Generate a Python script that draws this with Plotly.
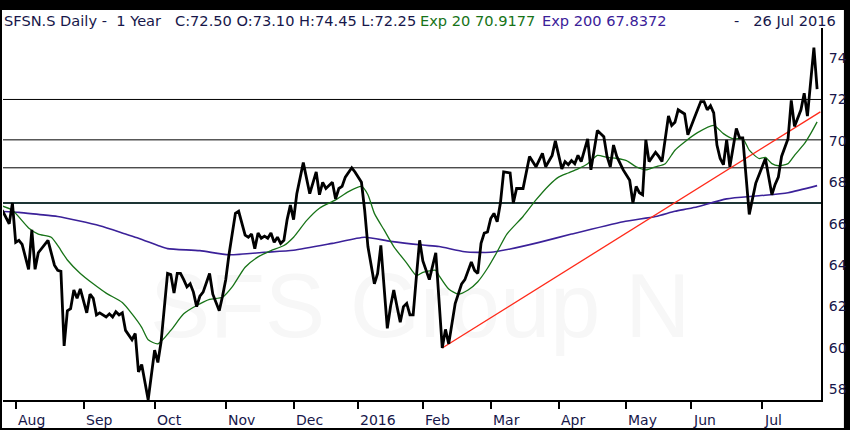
import pandas as pd
import plotly.graph_objects as go

# SIX trading calendar, one year back from 26 Jul 2016
first_session = "2015-07-27"
last_session = "2016-07-26"
closed_days = ["2015-12-24", "2015-12-25", "2015-12-31", "2016-01-01",
               "2016-03-25", "2016-03-28", "2016-05-05", "2016-05-16"]

month_starts = ["2015-08-01", "2015-09-01", "2015-10-01", "2015-11-01", "2015-12-01", "2016-01-01",
                "2016-02-01", "2016-03-01", "2016-04-01", "2016-05-01", "2016-06-01", "2016-07-01"]
month_labels = ["Aug", "Sep", "Oct", "Nov", "Dec", "2016", "Feb", "Mar", "Apr", "May", "Jun", "Jul"]

# closing prices (session number since 27 Jul 2015 -> close)
close_day = [0, 1, 3, 4, 5, 6, 7, 9, 10, 11, 12, 14, 15, 17, 18, 19, 20, 21, 22, 23,
             24, 25, 26, 27, 28, 29, 30, 31, 33, 34, 35, 36, 37, 38, 39, 41, 42, 43, 44, 46,
             48, 49, 50, 52, 53, 54, 55, 56, 57, 58, 59, 60, 61, 62, 63, 65, 66, 68, 69, 70,
             71, 73, 74, 76, 77, 78, 79, 80, 81, 82, 83, 84, 85, 86, 87, 88, 89, 90, 91, 92,
             94, 96, 98, 99, 100, 101, 103, 104, 105, 106, 107, 109, 110, 112, 113, 114, 116, 117, 118, 119,
             120, 121, 122, 123, 124, 125, 126, 127, 128, 129, 130, 131, 133, 135, 137, 138, 139, 141, 142, 143,
             144, 146, 147, 148, 149, 150, 151, 152, 153, 154, 155, 156, 158, 159, 160, 162, 164, 166, 168, 169,
             171, 172, 174, 175, 176, 177, 178, 179, 180, 182, 183, 185, 187, 188, 189, 190, 191, 193, 195, 196,
             197, 198, 199, 200, 201, 203, 204, 205, 207, 208, 209, 210, 212, 213, 215, 217, 218, 219, 220, 221,
             222, 223, 224, 225, 226, 228, 229, 230, 232, 233, 234, 237, 238, 239, 240, 241, 242, 244, 245, 246,
             248, 249, 250, 252, 253]
close = [66.8, 66.6, 66.0, 67.0, 65.1, 65.2, 65.0, 63.8, 65.7, 63.8, 64.6, 65.0, 65.2, 64.0, 63.75, 63.7, 60.1, 61.8, 61.9, 62.8,
         62.4, 62.85, 62.3, 61.7, 62.6, 62.4, 61.6, 61.7, 61.5, 61.65, 61.5, 61.75, 61.6, 61.7, 60.85, 60.4, 60.7, 58.85, 59.2, 57.5,
         59.9, 59.3, 60.3, 63.6, 63.55, 62.65, 63.6, 63.6, 63.3, 62.95, 63.1, 62.7, 62.0, 62.5, 62.7, 63.6, 62.6, 61.8, 62.5, 63.3,
         64.5, 66.5, 66.6, 65.45, 65.35, 65.5, 64.8, 65.55, 65.3, 65.4, 65.3, 65.55, 65.1, 65.35, 65.05, 65.2, 66.2, 66.9, 66.2, 67.45,
         68.95, 67.45, 68.5, 67.4, 68.0, 67.7, 68.0, 67.2, 67.7, 67.8, 68.25, 68.7, 68.5, 68.0, 66.65, 64.9, 63.1, 63.6, 64.95, 62.8,
         60.95, 62.0, 62.8, 62.0, 61.25, 62.0, 62.15, 61.6, 61.6, 63.45, 65.2, 64.2, 63.3, 64.6, 60.0, 60.9, 60.2, 62.15, 62.6, 63.1,
         63.3, 64.15, 63.75, 63.6, 65.05, 65.55, 65.6, 66.25, 66.5, 66.1, 67.0, 68.5, 68.45, 67.0, 67.7, 67.7, 69.25, 68.75, 69.4, 68.75,
         69.3, 70.0, 68.65, 69.0, 68.85, 69.05, 68.9, 69.3, 69.0, 70.1, 68.6, 70.5, 70.2, 69.25, 68.75, 69.8, 69.25, 68.6, 68.1, 67.0,
         67.8, 67.5, 67.4, 70.05, 69.0, 69.45, 69.25, 69.0, 71.2, 70.75, 70.9, 71.5, 71.3, 70.3, 71.1, 71.9, 71.9, 71.5, 71.7, 71.35,
         69.8, 69.15, 68.85, 70.05, 68.75, 70.6, 70.15, 70.15, 66.45, 67.15, 67.95, 69.15, 68.25, 67.4, 67.9, 68.25, 69.25, 70.1, 71.95, 70.7,
         71.5, 72.3, 71.2, 74.5, 72.5]

ema20_day = [0, 4, 9, 12, 16, 18, 21, 25, 29, 33, 38, 41, 44, 46, 49, 53, 57, 61, 65, 69,
             72, 76, 80, 84, 88, 91, 95, 99, 104, 108, 112, 114, 116, 119, 122, 126, 129, 131, 135, 136,
             139, 142, 145, 148, 151, 154, 157, 162, 166, 170, 173, 176, 179, 182, 185, 188, 191, 194, 197, 200,
             203, 206, 209, 212, 216, 221, 224, 227, 230, 232, 235, 237, 239, 241, 244, 246, 249, 251, 253]
ema20 = [66.9, 66.65, 65.8, 65.5, 65.35, 64.95, 64.25, 63.6, 63.1, 62.65, 62.2, 61.65, 61.0, 60.4, 60.2, 60.85, 61.65, 62.05, 62.35, 62.45,
         62.95, 63.9, 64.4, 64.7, 64.95, 65.35, 66.15, 66.75, 67.15, 67.55, 67.8, 67.4, 66.5, 65.7, 64.9, 64.1, 63.5, 63.65, 63.75, 63.5,
         62.85, 62.6, 62.8, 63.2, 63.85, 64.65, 65.5, 66.35, 67.15, 67.85, 68.25, 68.45, 68.65, 68.9, 69.3, 69.2, 69.15, 69.05, 68.75, 68.6,
         68.75, 68.9, 69.55, 69.95, 70.4, 70.75, 70.35, 70.1, 70.1, 69.55, 69.15, 69.2, 68.9, 68.8, 68.9, 69.3, 69.85, 70.35, 70.92]

ema200_day = [0, 6, 12, 18, 31, 39, 43, 49, 52, 62, 71, 82, 91, 103, 113, 121, 131, 136, 144, 152,
              158, 167, 177, 193, 203, 209, 213, 216, 225, 235, 244, 253]
ema200 = [66.6, 66.55, 66.45, 66.35, 65.9, 65.5, 65.3, 64.95, 64.8, 64.7, 64.5, 64.62, 64.72, 65.05, 65.35, 65.15, 64.97, 64.9, 64.65, 64.62,
          64.78, 65.1, 65.5, 66.1, 66.35, 66.6, 66.72, 66.82, 67.2, 67.35, 67.5, 67.84]

# trend line from the February low
trend_day = [137, 254]
trend = [60.0, 71.4]

# horizontal levels
levels = [72.0, 70.05, 68.7]
support = 67.0

header = "SFSN.S Daily -  1 Year   C:72.50 O:73.10 H:74.45 L:72.25"
exp20_label = "Exp 20 70.9177"
exp200_label = "Exp 200 67.8372"
date_label = "-   26 Jul 2016"
watermark = "SFS Group N"

TEXT = "#17174a"
GREEN = "#177317"
PURPLE = "#3b2199"
FONT = "DejaVu Sans"


def session_calendar(start, end, closed):
    days = pd.bdate_range(start, end)
    return days[~days.isin(pd.to_datetime(closed))]


def nbsp(text):
    return text.replace(" ", "\u00a0")


def header_text(fig, text, x, color, anchor="left"):
    # x in paper units, header row sits in the top margin
    fig.add_annotation(x=x, y=1.019, xref="paper", yref="paper", xanchor=anchor, yanchor="middle",
                       showarrow=False, text=nbsp(text), borderpad=0,
                       font=dict(family=FONT, size=14.6, color=color))


sessions = session_calendar(first_session, last_session, closed_days)
month_ticks = [int(sessions.searchsorted(pd.Timestamp(m))) for m in month_starts]

x_range = [1.08, 254.2]
y_range = [57.49, 75.45]

fig = go.Figure()

# faint watermark behind everything
fig.add_trace(go.Scatter(
    x=[x_range[0] + 0.51 * (x_range[1] - x_range[0])],
    y=[y_range[0] + 0.23 * (y_range[1] - y_range[0])],
    mode="text", text=[watermark],
    textfont=dict(family="Liberation Sans", size=90, color="#f7f7f7"),
    hoverinfo="skip"
))
fig.add_trace(go.Scatter(x=ema200_day, y=ema200, mode="lines",
                         line=dict(color=PURPLE, width=1.6, shape="spline", smoothing=0.6)))
fig.add_trace(go.Scatter(x=ema20_day, y=ema20, mode="lines",
                         line=dict(color=GREEN, width=1.3, shape="spline", smoothing=0.6)))
fig.add_trace(go.Scatter(x=trend_day, y=trend, mode="lines",
                         line=dict(color="#ff2a1a", width=1.3)))
fig.add_trace(go.Scatter(x=close_day, y=close, mode="lines",
                         line=dict(color="black", width=2.8)))

# white panel inside the black frame
fig.add_shape(type="rect", xref="paper", yref="paper",
              x0=-1 / 821, x1=844 / 821, y0=-28 / 372, y1=390 / 372,
              fillcolor="white", line=dict(width=0), layer="below")
for lvl in levels:
    fig.add_shape(type="line", xref="paper", yref="y", x0=0, x1=1, y0=lvl, y1=lvl,
                  line=dict(color="black", width=1), layer="below")
fig.add_shape(type="line", xref="paper", yref="y", x0=0, x1=1, y0=support, y1=support,
              line=dict(color="#1d3535", width=2), layer="below")

for day, label in zip(month_ticks, month_labels):
    fig.add_annotation(x=day, y=0, xref="x", yref="paper", text=label, showarrow=False,
                       xanchor="left", yanchor="top", yshift=-10,
                       font=dict(family=FONT, size=14, color=TEXT))

header_text(fig, header, 0, TEXT)
header_text(fig, exp20_label, 418 / 821, GREEN)
header_text(fig, exp200_label, 540 / 821, PURPLE)
header_text(fig, date_label, 837 / 821, TEXT, anchor="right")

fig.update_layout(
    width=850, height=430,
    margin=dict(l=3, r=26, t=28, b=30),
    paper_bgcolor="black", plot_bgcolor="white",
    showlegend=False,
    xaxis=dict(range=x_range, tickvals=month_ticks, showticklabels=False,
               ticks="outside", ticklen=7, tickwidth=2, tickcolor="black",
               showline=True, linecolor="black", linewidth=2,
               showgrid=False, zeroline=False),
    yaxis=dict(range=y_range, side="right", tick0=58, dtick=2,
               ticks="outside", ticklen=3, tickcolor="rgba(0,0,0,0)",
               tickfont=dict(family=FONT, size=14, color=TEXT),
               showline=True, linecolor="black", linewidth=2,
               showgrid=False, zeroline=False),
)

# the page body has a default margin; drop it so the frame sits at the window edge
fig.write_html("out.html", config={"displayModeBar": False},
               post_script="document.body.style.margin='0';")
